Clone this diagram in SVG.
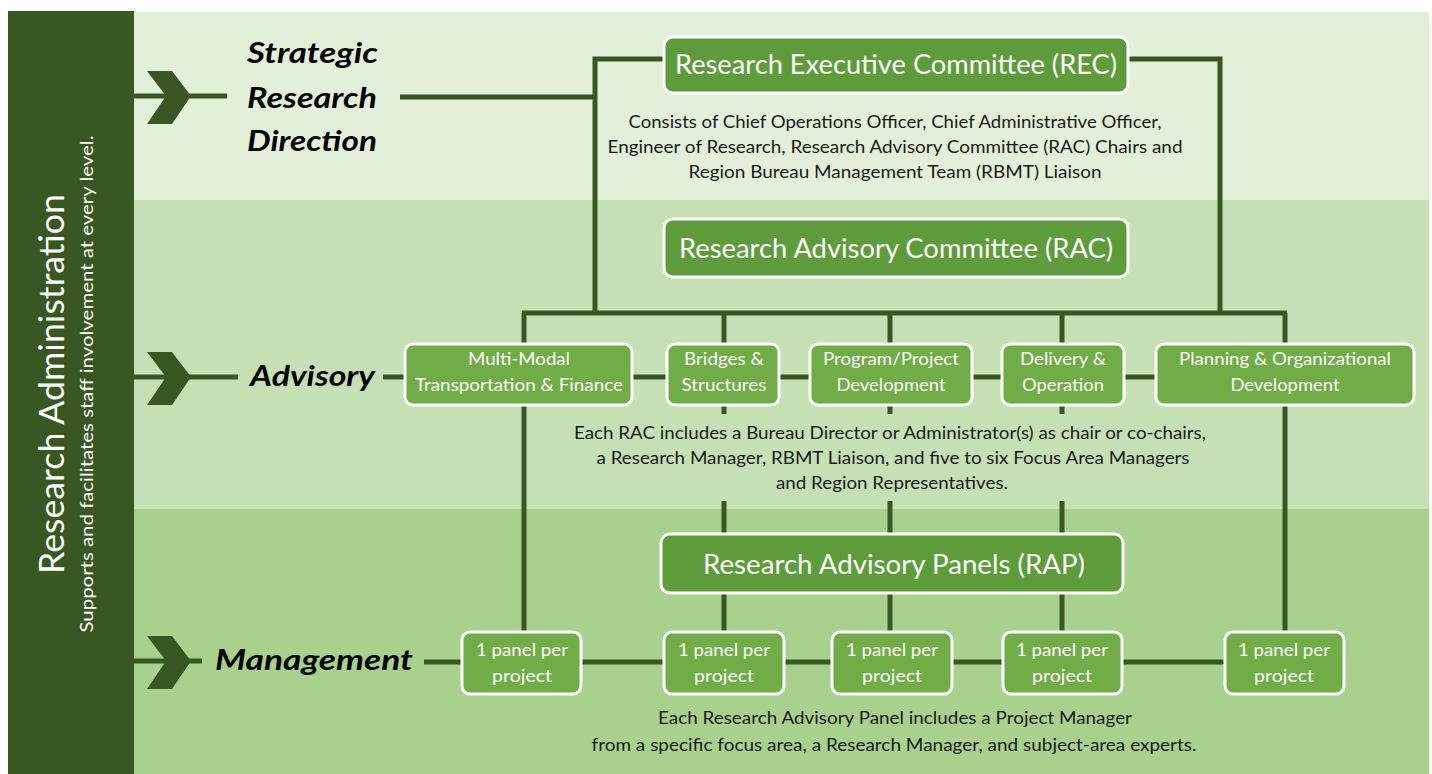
<svg xmlns="http://www.w3.org/2000/svg" width="1432" height="774" viewBox="0 0 1432 774">
<style>
.band1{fill:#e2f0d9}.band2{fill:#c5e0b4}.band3{fill:#a9d18e}
.side{fill:#385723}
.ln{stroke:#385723;stroke-width:5;fill:none;stroke-linecap:butt;stroke-linejoin:miter}
.chev{fill:#385723}
.big{fill:#5e9c3b;stroke:#ffffff;stroke-width:3}
.sm{fill:#70ad47;stroke:#ffffff;stroke-width:3}
.bt{font-family:Lato,"Liberation Sans",sans-serif;fill:#ffffff;font-size:26px;text-anchor:middle}
.st{font-family:Lato,"Liberation Sans",sans-serif;fill:#ffffff;font-size:17px;text-anchor:middle}
.desc{font-family:Lato,"Liberation Sans",sans-serif;fill:#1a1a1a;font-size:17px;text-anchor:middle}
.lvl{font-family:Lato,"Liberation Sans",sans-serif;fill:#000000;font-size:29px;font-weight:bold;font-style:italic}
.sidet{font-family:Lato,"Liberation Sans",sans-serif;fill:#ffffff;text-anchor:middle}
</style>
<defs>
<polygon id="chevron" points="147,-25 172,-25 191,0 172,28 147,28 166,0"/>
</defs>
<rect x="0" y="0" width="1432" height="774" fill="#ffffff"/>
<rect class="band1" x="134" y="12" width="1295" height="188"/>
<rect class="band2" x="134" y="200" width="1295" height="309"/>
<rect class="band3" x="134" y="509" width="1295" height="265"/>

<g id="sidebar">
<rect class="side" x="8" y="11" width="126" height="763"/>
<text class="sidet" transform="translate(64,384) rotate(-90)" font-size="34" textLength="380" lengthAdjust="spacingAndGlyphs">Research Administration</text>
<text class="sidet" transform="translate(93,384) rotate(-90)" font-size="17" textLength="497" lengthAdjust="spacingAndGlyphs">Supports and facilitates staff involvement at every level.</text>
</g>

<g id="connectors">
<use href="#chevron" class="chev" transform="translate(0,96)"/>
<use href="#chevron" class="chev" transform="translate(0,377)"/>
<use href="#chevron" class="chev" transform="translate(0,661)"/>
<path class="ln" d="M134,96 H227"/>
<path class="ln" d="M134,377 H238"/>
<path class="ln" d="M134,661 H202"/>
<path class="ln" d="M400,97 H595"/>
<path class="ln" d="M665,59 H595 V313"/>
<path class="ln" d="M1128,59 H1220 V313"/>
<path class="ln" d="M522,313 H1287"/>
<path class="ln" d="M524,313 V344 M724,313 V344 M890,313 V344 M1062,313 V344 M1285,313 V344"/>
<path class="ln" d="M383,377 H1156"/>
<path class="ln" d="M524,405 V632 M1285,405 V632"/>
<path class="ln" d="M724,405 V414 M890,405 V414 M1062,405 V414"/>
<path class="ln" d="M724,501 V535 M890,501 V535 M1062,501 V535"/>
<path class="ln" d="M724,593 V632 M890,593 V632 M1062,593 V632"/>
<path class="ln" d="M424,662 H1225"/>
</g>

<g id="level-strategic">
<text class="lvl" x="247" y="63" textLength="131" lengthAdjust="spacingAndGlyphs">Strategic</text>
<text class="lvl" x="247" y="108" textLength="130" lengthAdjust="spacingAndGlyphs">Research</text>
<text class="lvl" x="247" y="151" textLength="130" lengthAdjust="spacingAndGlyphs">Direction</text>
</g>
<g id="level-advisory">
<text class="lvl" x="250" y="386" textLength="125" lengthAdjust="spacingAndGlyphs">Advisory</text>
</g>
<g id="level-management">
<text class="lvl" x="215" y="670" textLength="198" lengthAdjust="spacingAndGlyphs">Management</text>
</g>

<g id="rec">
<rect class="big" x="664" y="37" width="464" height="56" rx="9"/>
<text class="bt" x="896" y="74" textLength="442" lengthAdjust="spacingAndGlyphs">Research Executive Committee (REC)</text>
</g>
<g id="rec-desc">
<text class="desc" x="895" y="128" textLength="533" lengthAdjust="spacingAndGlyphs">Consists of Chief Operations Officer, Chief Administrative Officer,</text>
<text class="desc" x="895" y="153" textLength="575" lengthAdjust="spacingAndGlyphs">Engineer of Research, Research Advisory Committee (RAC) Chairs and</text>
<text class="desc" x="895" y="178" textLength="413" lengthAdjust="spacingAndGlyphs">Region Bureau Management Team (RBMT) Liaison</text>
</g>

<g id="rac">
<rect class="big" x="664" y="219" width="464" height="58" rx="9"/>
<text class="bt" x="896" y="258" textLength="434" lengthAdjust="spacingAndGlyphs">Research Advisory Committee (RAC)</text>
</g>

<g id="adv-multimodal">
<rect class="sm" x="405" y="344" width="227" height="61" rx="8"/>
<text class="st" x="519" y="365" textLength="102" lengthAdjust="spacingAndGlyphs">Multi-Modal</text>
<text class="st" x="519" y="391" textLength="208" lengthAdjust="spacingAndGlyphs">Transportation &amp; Finance</text>
</g>
<g id="adv-bridges">
<rect class="sm" x="667" y="344" width="112" height="61" rx="8"/>
<text class="st" x="724" y="365" textLength="80" lengthAdjust="spacingAndGlyphs">Bridges &amp;</text>
<text class="st" x="724" y="391" textLength="85" lengthAdjust="spacingAndGlyphs">Structures</text>
</g>
<g id="adv-program">
<rect class="sm" x="810" y="344" width="162" height="61" rx="8"/>
<text class="st" x="891" y="365" textLength="136" lengthAdjust="spacingAndGlyphs">Program/Project</text>
<text class="st" x="891" y="391" textLength="109" lengthAdjust="spacingAndGlyphs">Development</text>
</g>
<g id="adv-delivery">
<rect class="sm" x="1002" y="344" width="122" height="61" rx="8"/>
<text class="st" x="1063" y="365" textLength="86" lengthAdjust="spacingAndGlyphs">Delivery &amp;</text>
<text class="st" x="1063" y="391" textLength="82" lengthAdjust="spacingAndGlyphs">Operation</text>
</g>
<g id="adv-planning">
<rect class="sm" x="1156" y="344" width="258" height="61" rx="8"/>
<text class="st" x="1285" y="365" textLength="212" lengthAdjust="spacingAndGlyphs">Planning &amp; Organizational</text>
<text class="st" x="1285" y="391" textLength="109" lengthAdjust="spacingAndGlyphs">Development</text>
</g>

<g id="rac-desc">
<text class="desc" x="890" y="439" textLength="632" lengthAdjust="spacingAndGlyphs">Each RAC includes a Bureau Director or Administrator(s) as chair or co-chairs,</text>
<text class="desc" x="893" y="464" textLength="593" lengthAdjust="spacingAndGlyphs">a Research Manager, RBMT Liaison, and five to six Focus Area Managers</text>
<text class="desc" x="892" y="489" textLength="232" lengthAdjust="spacingAndGlyphs">and Region Representatives.</text>
</g>

<g id="rap">
<rect class="big" x="661" y="534" width="462" height="59" rx="9"/>
<text class="bt" x="894" y="574" textLength="382" lengthAdjust="spacingAndGlyphs">Research Advisory Panels (RAP)</text>
</g>

<g id="panel-1">
<rect class="sm" x="462" y="632" width="119" height="62" rx="8"/>
<text class="st" x="522" y="656" textLength="92" lengthAdjust="spacingAndGlyphs">1 panel per</text>
<text class="st" x="522" y="682" textLength="60" lengthAdjust="spacingAndGlyphs">project</text>
</g>
<g id="panel-2">
<rect class="sm" x="664" y="632" width="120" height="62" rx="8"/>
<text class="st" x="724" y="656" textLength="92" lengthAdjust="spacingAndGlyphs">1 panel per</text>
<text class="st" x="724" y="682" textLength="60" lengthAdjust="spacingAndGlyphs">project</text>
</g>
<g id="panel-3">
<rect class="sm" x="832" y="632" width="120" height="62" rx="8"/>
<text class="st" x="892" y="656" textLength="92" lengthAdjust="spacingAndGlyphs">1 panel per</text>
<text class="st" x="892" y="682" textLength="60" lengthAdjust="spacingAndGlyphs">project</text>
</g>
<g id="panel-4">
<rect class="sm" x="1003" y="632" width="119" height="62" rx="8"/>
<text class="st" x="1062" y="656" textLength="92" lengthAdjust="spacingAndGlyphs">1 panel per</text>
<text class="st" x="1062" y="682" textLength="60" lengthAdjust="spacingAndGlyphs">project</text>
</g>
<g id="panel-5">
<rect class="sm" x="1225" y="632" width="119" height="62" rx="8"/>
<text class="st" x="1284" y="656" textLength="92" lengthAdjust="spacingAndGlyphs">1 panel per</text>
<text class="st" x="1284" y="682" textLength="60" lengthAdjust="spacingAndGlyphs">project</text>
</g>

<g id="rap-desc">
<text class="desc" x="895" y="724" textLength="474" lengthAdjust="spacingAndGlyphs">Each Research Advisory Panel includes a Project Manager</text>
<text class="desc" x="894" y="751" textLength="605" lengthAdjust="spacingAndGlyphs">from a specific focus area, a Research Manager, and subject-area experts.</text>
</g>
</svg>
